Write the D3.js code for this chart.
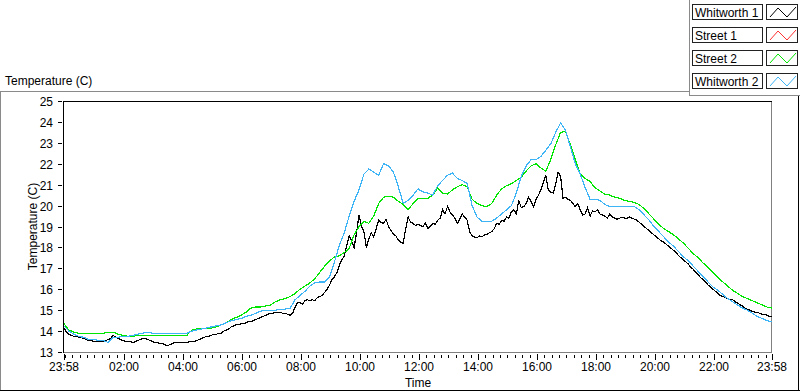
<html>
<head>
	<meta charset="utf-8">
	<script src="https://cdn.jsdelivr.net/npm/d3@7"></script>
	<style>
		body { margin: 0; background: #fff; }
		text { font-family: "Liberation Sans", Arial, sans-serif; fill: #000; }
	</style>
</head>
<body>
	<div id="output"></div>
	<script>
		// readings start at 23:58; Whitworth 1 every 5 minutes, the others every 10
		var startTime = new Date(2013, 6, 1, 23, 58);
		var seriesNames = ["Whitworth 1", "Street 1", "Street 2", "Whitworth 2"];
		var seriesColors = ["#000000", "#ff3030", "#00e600", "#3cb4f5"];
		var seriesSteps = [5, 10, 10, 10];
		var yTickValues = [13, 14, 15, 16, 17, 18, 19, 20, 21, 22, 23, 24, 25];

		var whitworth1 = [
			14.15, 13.95, 13.85, 13.8, 13.75, 13.75, 13.7, 13.7, 13.65, 13.6,
			13.55, 13.55, 13.5, 13.5, 13.5, 13.5, 13.5, 13.55, 13.6, 13.65,
			13.8, 13.7, 13.65, 13.6, 13.55, 13.5, 13.5, 13.5, 13.45, 13.5,
			13.55, 13.6, 13.65, 13.65, 13.6, 13.55, 13.5, 13.45, 13.45, 13.4,
			13.4, 13.35, 13.3, 13.35, 13.4, 13.45, 13.45, 13.45, 13.45, 13.45,
			13.45, 13.5, 13.5, 13.5, 13.55, 13.6, 13.65, 13.7, 13.75, 13.75,
			13.8, 13.85, 13.85, 13.9, 13.9, 14.0, 14.05, 14.1, 14.2, 14.25,
			14.3, 14.3, 14.35, 14.35, 14.4, 14.45, 14.45, 14.5, 14.55, 14.6,
			14.65, 14.7, 14.75, 14.8, 14.85, 14.85, 14.9, 14.9, 14.9, 14.85,
			14.85, 14.8, 14.75, 14.85, 15.15, 15.35,
			15.35, 15.3, 15.45, 15.5, 15.45, 15.5, 15.45, 15.6, 15.65, 15.7,
			15.85, 16.0, 16.2, 16.45, 16.6, 16.8, 17.15, 17.4, 17.6, 18.1,
			18.55, 18.3, 18.0, 18.7, 19.55, 19.0, 18.75, 18.0, 18.4, 18.7,
			18.5, 18.9, 19.3, 19.2, 19.15, 19.35, 19.0, 18.8, 18.65, 18.55,
			18.35, 18.25, 18.2, 18.9, 19.45, 19.2, 19.15, 19.05, 19.1, 19.05,
			19.0, 19.15, 18.9, 19.0, 19.15, 19.1, 19.3, 19.4, 19.8, 19.6,
			19.95, 19.7, 19.55, 19.4, 19.15, 19.35, 19.6, 19.45, 19.3, 18.75,
			18.55, 18.5, 18.45, 18.55, 18.5, 18.6, 18.6, 18.7, 18.75, 18.9,
			19.15, 19.1, 19.3, 19.25, 19.45, 19.4, 19.7, 19.8, 19.6, 20.25,
			19.9, 19.95, 20.1, 20.4, 20.2, 19.95, 20.3, 20.5, 20.75, 21.1,
			21.45, 20.75, 20.65, 20.6, 21.0, 21.6, 21.4, 20.35, 20.4, 20.3,
			20.25, 20.1, 19.95, 20.1, 19.8, 19.55, 19.6, 19.9, 19.5, 19.75,
			19.7,
			19.8, 19.6, 19.55, 19.5, 19.4, 19.6, 19.45, 19.4, 19.35, 19.4,
			19.45, 19.4, 19.4, 19.45, 19.4, 19.35, 19.3, 19.2, 19.1, 19.0,
			18.9, 18.8, 18.7, 18.6, 18.5, 18.4, 18.3, 18.25, 18.15, 18.05,
			17.95, 17.85, 17.75, 17.6, 17.5, 17.4, 17.3, 17.2, 17.05, 16.95,
			16.8, 16.7, 16.55, 16.45, 16.35, 16.2, 16.1, 16.0, 15.9, 15.8,
			15.7, 15.65, 15.6, 15.55, 15.5, 15.5, 15.4, 15.35, 15.25, 15.2,
			15.1, 15.05, 15.0, 14.95, 14.9, 14.9, 14.85, 14.8, 14.8, 14.75,
			14.7, 14.7
		];
		var street1 = [];
		var street2 = [
			14.35, 14.05, 13.95, 13.9, 13.9, 13.9, 13.9, 13.9, 13.9, 13.95,
			13.95, 13.85, 13.8, 13.75, 13.75, 13.8, 13.8, 13.8, 13.8, 13.8,
			13.8, 13.8, 13.8, 13.8, 13.8, 13.8, 14.05, 14.1, 14.1, 14.15,
			14.15, 14.2, 14.3, 14.4, 14.55, 14.65, 14.75, 14.9, 15.1, 15.15,
			15.15, 15.2, 15.25, 15.4, 15.5, 15.55, 15.65, 15.8, 16.0, 16.15,
			16.3, 16.5, 16.8, 17.1, 17.35, 17.55, 17.6, 17.75, 17.95, 18.6,
			19.0, 19.25, 19.15, 19.5, 20.1, 20.4, 20.45, 20.4, 20.2, 20.05,
			19.8, 20.1, 20.35, 20.35, 20.35, 20.5, 20.85, 20.6, 20.55, 20.75,
			20.9, 21.0, 20.9, 20.3, 20.1, 20.0, 19.95, 20.1, 20.5, 20.8,
			20.95, 21.05, 21.2, 21.35, 21.65, 21.9, 22.0, 21.8, 21.65, 22.2,
			22.9, 23.5, 23.55, 22.9, 22.2, 21.5, 21.3, 21.15, 20.85, 20.7,
			20.55, 20.5, 20.4, 20.35, 20.25, 20.2, 20.15, 20.05, 19.85, 19.6,
			19.35, 19.1, 18.9, 18.75, 18.6, 18.4, 18.2, 17.95, 17.7, 17.5,
			17.25, 17.05, 16.8, 16.55, 16.35, 16.15, 15.95, 15.8, 15.65, 15.55,
			15.45, 15.35, 15.25, 15.15, 15.1
		];
		var whitworth2 = [
			14.25, 14.0, 13.85, 13.75, 13.7, 13.6, 13.6, 13.55, 13.55, 13.45,
			13.7, 13.7, 13.75, 13.75, 13.8, 13.85, 13.9, 13.95, 13.9, 13.9,
			13.9, 13.9, 13.9, 13.9, 13.9, 13.9, 14.0, 14.05, 14.1, 14.15,
			14.2, 14.25, 14.3, 14.4, 14.5, 14.55, 14.6, 14.7, 14.75, 14.85,
			14.95, 15.0, 15.0, 15.0, 15.05, 15.05, 15.1, 15.5, 15.7, 15.9,
			16.15, 16.3, 16.35, 16.35, 16.6, 17.3, 18.1, 18.7, 19.5, 20.2,
			20.75, 21.5, 21.75, 21.6, 21.45, 22.0, 21.9, 21.6, 20.9, 20.1,
			20.25, 20.5, 20.8, 20.65, 20.6, 20.5, 20.95, 21.2, 21.45, 21.55,
			21.3, 21.2, 21.05, 20.0, 19.45, 19.25, 19.25, 19.25, 19.4, 19.6,
			19.8, 20.0, 20.6, 21.4, 21.9, 22.2, 22.2, 22.35, 22.65, 22.95,
			23.5, 23.95, 23.6, 22.8, 22.0, 21.5, 20.85, 20.3, 20.3, 20.25,
			20.05, 19.95, 19.95, 19.95, 19.95, 19.95, 19.95, 19.8, 19.55, 19.3,
			19.0, 18.75, 18.5, 18.25, 18.05, 17.8, 17.55, 17.35, 17.1, 16.85,
			16.6, 16.35, 16.1, 15.95, 15.75, 15.55, 15.4, 15.25, 15.1, 15.0,
			14.85, 14.7, 14.6, 14.5, 14.45
		];
		var allSeries = [whitworth1, street1, street2, whitworth2];

		var width = 800, height = 392;
		var plot = { left: 64, right: 772, top: 101, bottom: 352 };

		var svg = d3.select("#output")
			.append("svg")
			.attr("width", width)
			.attr("height", height);

		var endTime = d3.timeHour.offset(startTime, 24);
		var x = d3.scaleTime()
			.domain([startTime, endTime])
			.range([plot.left, plot.right]);
		var y = d3.scaleLinear()
			.domain([13, 25])
			.range([plot.bottom, plot.top]);

		// outer panel frame
		svg.append("line").attr("x1", 0).attr("x2", 689).attr("y1", 91.5).attr("y2", 91.5)
			.style("stroke", "#8a8a8a");
		svg.append("line").attr("x1", 0.5).attr("x2", 0.5).attr("y1", 91).attr("y2", 391)
			.style("stroke", "#8a8a8a");
		svg.append("line").attr("x1", 689.5).attr("x2", 689.5).attr("y1", 0).attr("y2", 96)
			.style("stroke", "#8a8a8a");
		svg.append("line").attr("x1", 689).attr("x2", 800).attr("y1", 95.5).attr("y2", 95.5)
			.style("stroke", "#8a8a8a");
		svg.append("line").attr("x1", 0).attr("x2", 800).attr("y1", 390.5).attr("y2", 390.5)
			.style("stroke", "#000");
		svg.append("line").attr("x1", 798.5).attr("x2", 798.5).attr("y1", 96).attr("y2", 391)
			.style("stroke", "#000");

		// title
		svg.append("text")
			.attr("x", 5)
			.attr("y", 85)
			.style("font-size", "12px")
			.text("Temperature (C)");

		// plot area borders
		svg.append("line").attr("x1", plot.left).attr("x2", plot.right).attr("y1", plot.bottom + 0.5).attr("y2", plot.bottom + 0.5)
			.style("stroke", "#808080");
		svg.append("line").attr("x1", plot.right - 0.5).attr("x2", plot.right - 0.5).attr("y1", plot.top).attr("y2", plot.bottom)
			.style("stroke", "#808080");
		svg.append("line").attr("x1", plot.left - 0.5).attr("x2", plot.right).attr("y1", plot.top + 0.5).attr("y2", plot.top + 0.5)
			.style("stroke", "#000");
		svg.append("line").attr("x1", plot.left - 0.5).attr("x2", plot.left - 0.5).attr("y1", plot.top).attr("y2", plot.bottom + 1)
			.style("stroke", "#000");

		// y axis
		var yAxis = svg.append("g");
		yAxis.selectAll("line")
			.data(yTickValues)
			.enter().append("line")
			.attr("x1", plot.left - 6)
			.attr("x2", plot.left - 2)
			.attr("y1", function(d) { return Math.round(y(d)) + 0.5; })
			.attr("y2", function(d) { return Math.round(y(d)) + 0.5; })
			.style("stroke", "#000");
		yAxis.selectAll("text")
			.data(yTickValues)
			.enter().append("text")
			.attr("x", plot.left - 11)
			.attr("y", function(d) { return y(d) + 5; })
			.style("font-size", "12px")
			.style("text-anchor", "end")
			.text(function(d) { return d; });
		svg.append("text")
			.attr("transform", "translate(37," + ((plot.top + plot.bottom) / 2) + ") rotate(-90)")
			.style("font-size", "12px")
			.style("text-anchor", "middle")
			.text("Temperature (C)");

		// x axis
		var fmt = d3.timeFormat("%H:%M");
		var minorTicks = d3.timeMinute.every(15).range(startTime, endTime);
		var majorTicks = [startTime].concat(d3.timeHour.every(2).range(d3.timeMinute.offset(startTime, 30), endTime)).concat([endTime]);
		var xAxis = svg.append("g");
		xAxis.selectAll("line.minor")
			.data(minorTicks)
			.enter().append("line")
			.attr("class", "minor")
			.attr("x1", function(d) { return Math.round(x(d)) + 0.5; })
			.attr("x2", function(d) { return Math.round(x(d)) + 0.5; })
			.attr("y1", plot.bottom + 3)
			.attr("y2", plot.bottom + 6)
			.style("stroke", "#000");
		xAxis.selectAll("line.major")
			.data(majorTicks)
			.enter().append("line")
			.attr("class", "major")
			.attr("x1", function(d) { return Math.round(x(d)) + 0.5; })
			.attr("x2", function(d) { return Math.round(x(d)) + 0.5; })
			.attr("y1", plot.bottom + 2)
			.attr("y2", plot.bottom + 8)
			.style("stroke", "#000");
		xAxis.selectAll("text")
			.data(majorTicks)
			.enter().append("text")
			.attr("x", function(d) { return x(d); })
			.attr("y", plot.bottom + 19)
			.style("font-size", "12px")
			.style("text-anchor", "middle")
			.text(function(d) { return fmt(d); });
		svg.append("text")
			.attr("x", (plot.left + plot.right) / 2)
			.attr("y", 387)
			.style("font-size", "12px")
			.style("text-anchor", "middle")
			.text("Time");

		// plots
		allSeries.forEach(function(values, s) {
			if (values.length == 0) return;
			var line = d3.line()
				.x(function(d, i) { return x(d3.timeMinute.offset(startTime, i * seriesSteps[s])); })
				.y(function(d) { return y(d); });
			svg.append("path")
				.attr("d", line(values))
				.style("fill", "none")
				.style("stroke", seriesColors[s])
				.style("stroke-width", 1.2)
				.style("shape-rendering", "crispEdges");
		});

		// legend
		var legend = svg.append("g");
		seriesNames.forEach(function(name, i) {
			var top = 4 + i * 23;
			legend.append("rect")
				.attr("x", 692.5).attr("y", top + 0.5)
				.attr("width", 70).attr("height", 15)
				.style("fill", "#fff").style("stroke", "#222");
			legend.append("text")
				.attr("x", 695).attr("y", top + 12.5)
				.style("font-size", "12px")
				.text(name);
			legend.append("rect")
				.attr("x", 766.5).attr("y", top + 0.5)
				.attr("width", 31).attr("height", 15)
				.style("fill", "#fff").style("stroke", "#222");
			legend.append("path")
				.attr("d", d3.line()([[770, top + 13], [778, top + 4], [787, top + 13], [796, top + 3]]))
				.style("fill", "none")
				.style("stroke", seriesColors[i]);
		});
	</script>
</body>
</html>
